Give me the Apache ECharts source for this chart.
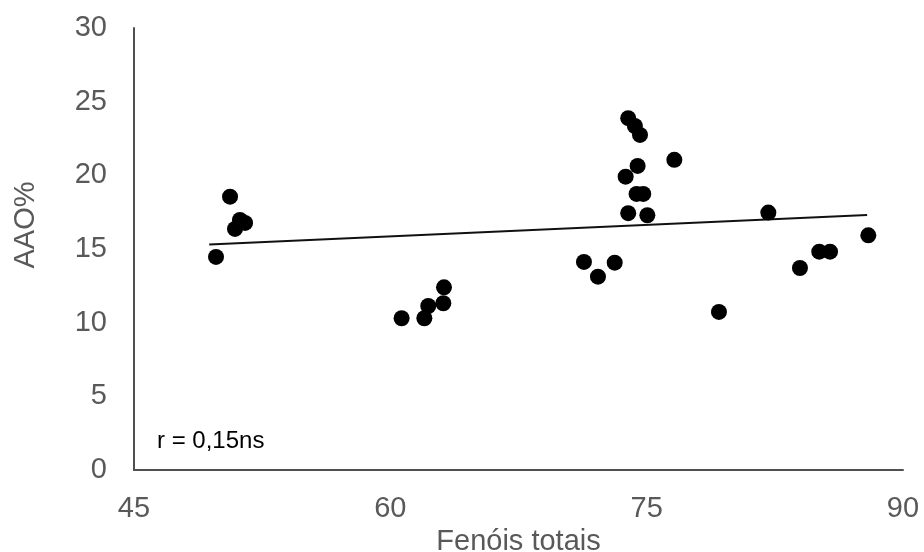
<!DOCTYPE html>
<html>
<head>
<meta charset="utf-8">
<script src="https://cdn.jsdelivr.net/npm/echarts@6/dist/echarts.min.js"></script>
<style>
html,body{margin:0;padding:0;background:#fff;}
#c{width:924px;height:552px;}
</style>
</head>
<body>
<div id="c"></div>
<script>
// Data
const fenoisTotais = [49.80, 50.62, 50.91, 51.20, 51.50,
  60.66, 61.99, 62.22, 63.10, 63.14,
  73.92, 74.31, 74.61, 76.62, 74.47, 73.77, 74.41, 74.80, 73.92, 75.04, 71.33, 73.13, 72.15,
  82.12, 87.97, 85.10, 85.73, 83.97, 79.23];
const aao = [14.46, 18.55, 16.36, 16.97, 16.77,
  10.30, 10.30, 11.13, 11.32, 12.40,
  23.88, 23.35, 22.74, 21.05, 20.64, 19.91, 18.74, 18.74, 17.43, 17.29, 14.12, 14.07, 13.12,
  17.47, 15.93, 14.82, 14.82, 13.71, 10.73];
const trendX = [49.4, 87.9];
const trendY = [15.3, 17.3];
const xTicks = [45, 60, 75, 90];
const yTicks = [0, 5, 10, 15, 20, 25, 30];
const xTitle = 'Fenóis totais';
const yTitle = 'AAO%';
const annotation = 'r = 0,15ns';

const points = fenoisTotais.map((x, i) => [x, aao[i]]);
const trend = trendX.map((x, i) => [x, trendY[i]]);

const chart = echarts.init(document.getElementById('c'), null, {renderer: 'canvas'});
const font = 'Liberation Sans, Arial, sans-serif';
chart.setOption({
  animation: false,
  backgroundColor: '#fff',
  grid: {left: 134, right: 21, top: 28, bottom: 82, containLabel: false, outerBoundsMode: 'none'},
  xAxis: {
    type: 'value', min: xTicks[0], max: xTicks[xTicks.length - 1], interval: 15,
    name: xTitle, nameLocation: 'middle', nameGap: 56,
    nameTextStyle: {fontFamily: font, fontSize: 29, color: '#595959'},
    axisLine: {show: true, lineStyle: {color: '#505050', width: 2}},
    axisTick: {show: false},
    splitLine: {show: false},
    axisLabel: {fontFamily: font, fontSize: 29, color: '#595959', margin: 24}
  },
  yAxis: {
    type: 'value', min: yTicks[0], max: yTicks[yTicks.length - 1], interval: 5,
    axisLine: {show: true, lineStyle: {color: '#505050', width: 2}},
    axisTick: {show: false},
    splitLine: {show: false},
    axisLabel: {fontFamily: font, fontSize: 29, color: '#595959', margin: 27}
  },
  graphic: [
    {type: 'text', x: 26, y: 225, rotation: Math.PI / 2,
      style: {text: yTitle, fontFamily: font, fontSize: 29, fill: '#595959', align: 'center', verticalAlign: 'middle'}},
    {type: 'text', x: 157, y: 441,
      style: {text: annotation, fontFamily: font, fontSize: 24, fill: '#000', align: 'left', verticalAlign: 'middle'}}
  ],
  series: [
    {type: 'line', data: trend, symbol: 'none', lineStyle: {color: '#111', width: 2}, z: 2},
    {type: 'scatter', data: points, symbol: 'circle', symbolSize: 16, itemStyle: {color: '#000', opacity: 1}, z: 3}
  ]
});
</script>
</body>
</html>
